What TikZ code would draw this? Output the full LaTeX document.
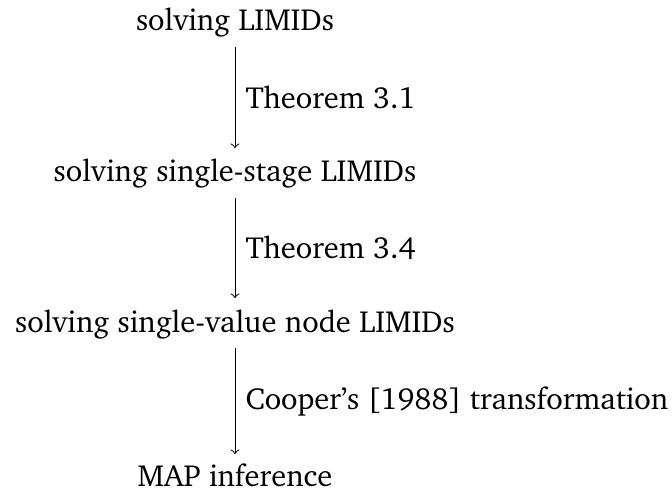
\documentclass[tikz,border=0pt]{standalone}
\usepackage[T1]{fontenc}
\usepackage{charter}
\begin{document}
\begin{tikzpicture}[x=0.4pt,y=-0.4pt,
  stage/.style={inner sep=0pt,anchor=base,font=\fontsize{12.2}{14}\selectfont},
  lbl/.style={inner sep=0pt,anchor=west,font=\fontsize{12.2}{14}\selectfont},
  flow/.style={->,line width=0.4pt}]
\useasboundingbox (0,0) rectangle (672,493);
\node[stage] (a) at (235,30) {solving LIMIDs};
\node[stage] (b) at (235,181) {solving single-stage LIMIDs};
\node[stage] (c) at (235,332) {solving single-value node LIMIDs};
\node[stage] (d) at (235,486) {MAP inference};
\coordinate (a1) at (235,47);
\coordinate (b0) at (235,148);
\coordinate (b1) at (235,198);
\coordinate (c0) at (235,298);
\coordinate (c1) at (235,348);
\coordinate (d0) at (235,454);
\draw[flow] (a1) -- (b0) node[lbl,midway,xshift=4pt] (l1) {Theorem 3.1};
\draw[flow] (b1) -- (c0) node[lbl,midway,xshift=4pt] (l2) {Theorem 3.4};
\draw[flow] (c1) -- (d0) node[lbl,midway,xshift=4pt] (l3) {Cooper's [1988] transformation};
\end{tikzpicture}
\end{document}
